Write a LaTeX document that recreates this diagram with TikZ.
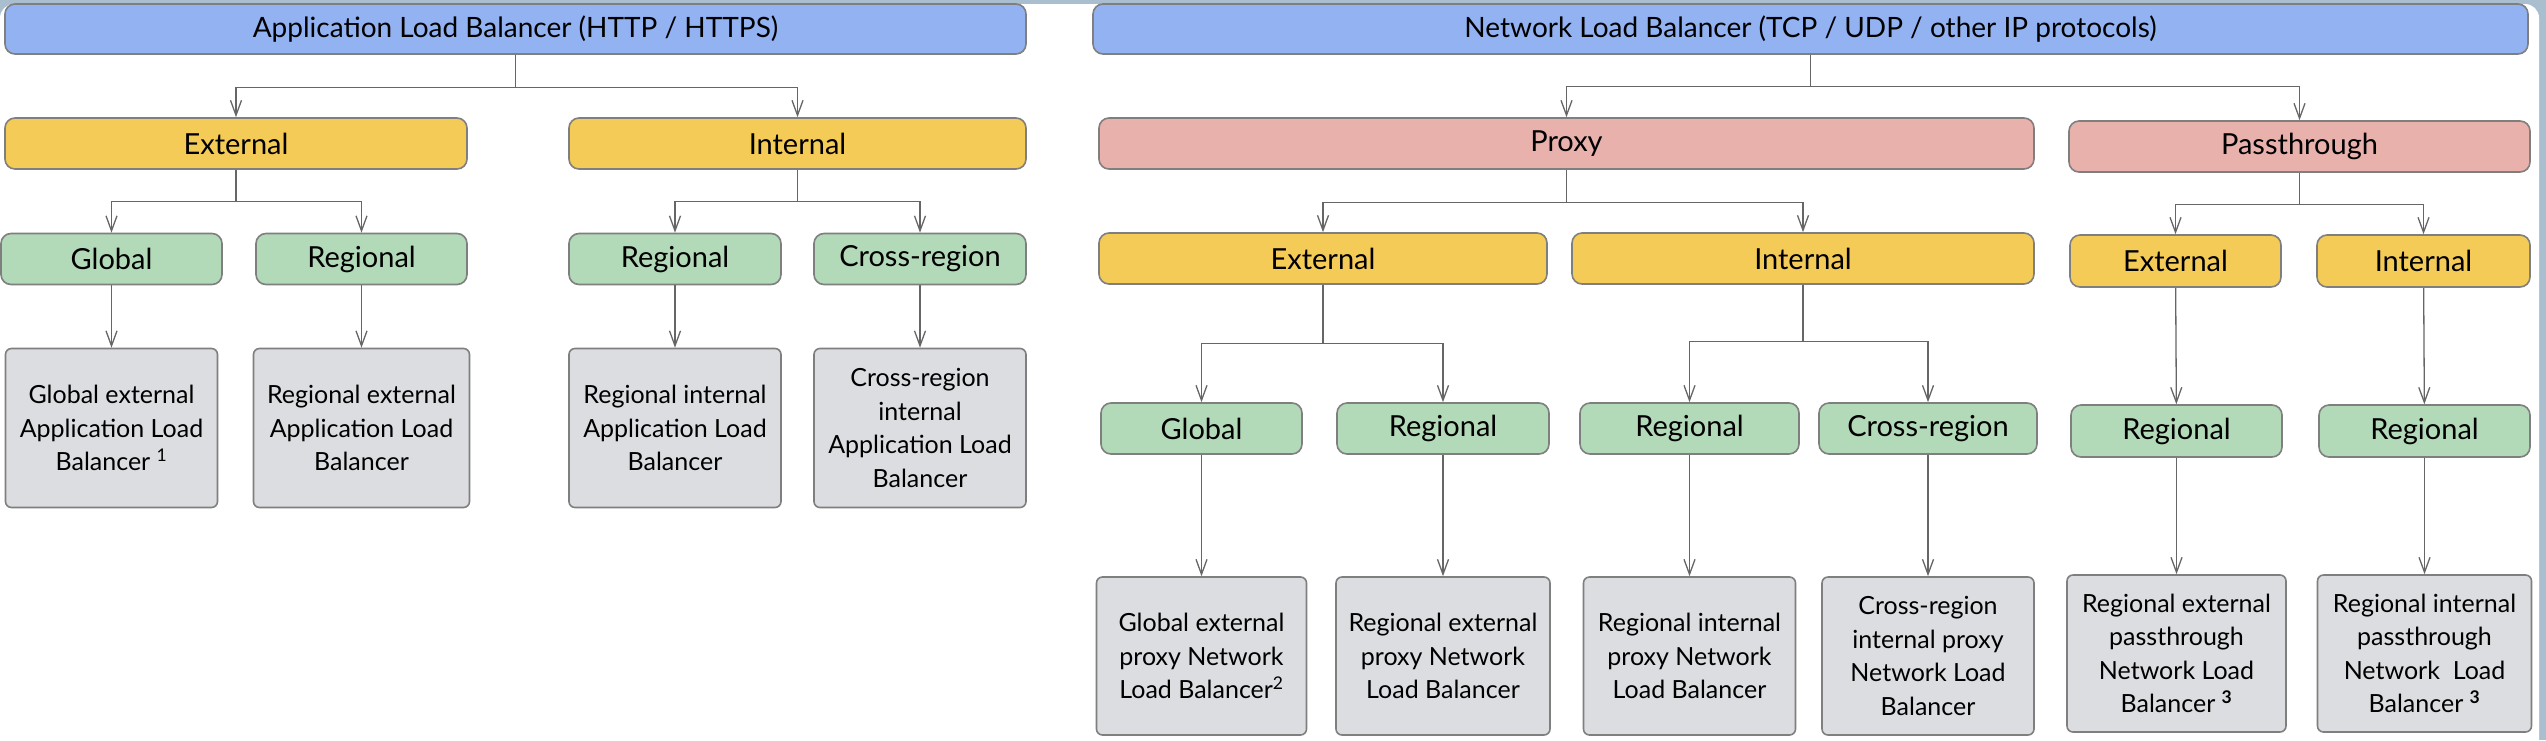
\documentclass[tikz,border=0pt]{standalone}
\usepackage{fontspec}
\setmainfont{Lato}
\usepackage{tikz}
\usetikzlibrary{arrows.meta,positioning}

\definecolor{albblue}{HTML}{92B2F2}
\definecolor{pinkish}{HTML}{E9B1AC}
\definecolor{yellowish}{HTML}{F4CB56}
\definecolor{greenish}{HTML}{B2D9B8}
\definecolor{leafgray}{HTML}{DCDDE0}
\definecolor{edgegray}{HTML}{7F7F7F}
\definecolor{linegray}{HTML}{666666}
\definecolor{framebg}{HTML}{A9BFCF}

\begin{document}
\begin{tikzpicture}[x=1pt, y=-1pt,
  box/.style = {draw = edgegray, line width = 1.6pt, rounded corners = 10pt, inner sep = 0pt, minimum height = 51pt, font = \fontsize{29}{34}\selectfont},
  top/.style = {box, fill = albblue, minimum height = 50pt, font = \fontsize{28}{33}\selectfont},
  kind/.style = {box, fill = pinkish},
  side/.style = {box, fill = yellowish},
  scope/.style = {box, fill = greenish},
  leaf/.style = {box, fill = leafgray, rounded corners = 6pt, minimum height = 159pt, align = center, font = \fontsize{25}{33.5}\selectfont},
  arr/.style = {draw = linegray, line width = 1.3pt, -{Straight Barb[length=15pt, width=11pt]}}]
\useasboundingbox (0,0) rectangle (2546,740);
\fill[framebg] (0,0) rectangle (2546,740);
\fill[white, rounded corners = 14pt] (0,4) rectangle (2539,780);

% Application Load Balancer
\node[top, minimum width = 1021pt] (1) at (515.5,29) {Application Load Balancer (HTTP / HTTPS)};
\node[side, minimum width = 462pt] (2) at (236,143.5) {External};
\node[side, minimum width = 457pt] (3) at (797.5,143.5) {Internal};
\node[scope, minimum width = 221pt] (4) at (111.5,259) {Global};
\node[scope, minimum width = 211pt] (5) at (361.5,259) {Regional};
\node[scope, minimum width = 212pt] (6) at (675,259) {Regional};
\node[scope, minimum width = 212pt] (7) at (920,259) {Cross-region};
\node[leaf, minimum width = 212pt] (8) at (111.5,428) {Global external\\Application Load\\Balancer \textsuperscript{1}};
\node[leaf, minimum width = 216pt] (9) at (361.5,428) {Regional external\\Application Load\\Balancer};
\node[leaf, minimum width = 212pt] (10) at (675,428) {Regional internal\\Application Load\\Balancer};
\node[leaf, minimum width = 212pt] (11) at (920,428) {Cross-region\\internal\\Application Load\\Balancer};

% Network Load Balancer
\node[top, minimum width = 1435pt] (12) at (1810.5,29) {Network Load Balancer (TCP / UDP / other IP protocols)};
\node[kind, minimum width = 935pt] (13) at (1566.5,143.5) {Proxy};
\node[kind, minimum width = 461pt] (14) at (2299.5,146.5) {Passthrough};
\node[side, minimum width = 448pt] (15) at (1323,258.5) {External};
\node[side, minimum width = 462pt] (16) at (1803,258.5) {Internal};
\node[side, minimum width = 211pt, minimum height = 52pt] (17) at (2175.5,261) {External};
\node[side, minimum width = 213pt, minimum height = 52pt] (18) at (2423.5,261) {Internal};
\node[scope, minimum width = 201pt] (19) at (1201.5,428.5) {Global};
\node[scope, minimum width = 212pt] (20) at (1443,428.5) {Regional};
\node[scope, minimum width = 219pt] (21) at (1689.5,428.5) {Regional};
\node[scope, minimum width = 218pt] (22) at (1928,428.5) {Cross-region};
\node[scope, minimum width = 211pt, minimum height = 52pt] (23) at (2176.5,431) {Regional};
\node[scope, minimum width = 211pt, minimum height = 52pt] (24) at (2424.5,431) {Regional};
\node[leaf, minimum width = 210pt, minimum height = 158pt] (25) at (1201.5,656) {Global external\\proxy Network\\Load Balancer\textsuperscript{2}};
\node[leaf, minimum width = 214pt, minimum height = 158pt] (26) at (1443,656) {Regional external\\proxy Network\\Load Balancer};
\node[leaf, minimum width = 212pt, minimum height = 158pt] (27) at (1689.5,656) {Regional internal\\proxy Network\\Load Balancer};
\node[leaf, minimum width = 212pt, minimum height = 158pt] (28) at (1928,656) {Cross-region\\internal proxy\\Network Load\\Balancer};
\node[leaf, minimum width = 219pt, minimum height = 157pt] (29) at (2176.5,653.5) {Regional external\\passthrough\\Network Load\\Balancer \textsuperscript{\bfseries 3}};
\node[leaf, minimum width = 214pt, minimum height = 157pt] (30) at (2424.5,653.5) {Regional internal\\passthrough\\Network\ \ Load\\Balancer \textsuperscript{\bfseries 3}};

% connectors
\draw[arr] (1.south) -- ++(0,33) -| (2.north);
\draw[arr] (1.south) -- ++(0,33) -| (3.north);
\draw[arr] (2.south) -- ++(0,32) -| (4.north);
\draw[arr] (2.south) -- ++(0,32) -| (5.north);
\draw[arr] (3.south) -- ++(0,32) -| (6.north);
\draw[arr] (3.south) -- ++(0,32) -| (7.north);
\foreach \a/\b in {4/8, 5/9, 6/10, 7/11, 17/23, 18/24, 19/25, 20/26, 21/27, 22/28, 23/29, 24/30}
  \draw[arr] (\a) -- (\b);
\draw[arr] (12.south) -- ++(0,32) -| (13.north);
\draw[arr] (12.south) -- ++(0,32) -| (14.north);
\draw[arr] (13.south) -- ++(0,33) -| (15.north);
\draw[arr] (13.south) -- ++(0,33) -| (16.north);
\draw[arr] (14.south) -- ++(0,32) -| (17.north);
\draw[arr] (14.south) -- ++(0,32) -| (18.north);
\draw[arr] (15.south) -- ++(0,59) -| (19.north);
\draw[arr] (15.south) -- ++(0,59) -| (20.north);
\draw[arr] (16.south) -- ++(0,57) -| (21.north);
\draw[arr] (16.south) -- ++(0,57) -| (22.north);
\end{tikzpicture}
\end{document}
